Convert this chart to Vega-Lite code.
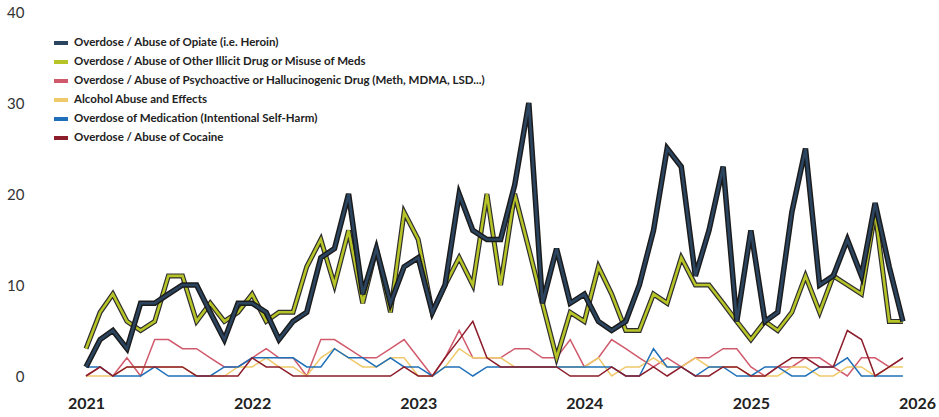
{
  "$schema": "https://vega.github.io/schema/vega-lite/v6.json",
  "autosize": "none",
  "width": 831,
  "height": 364,
  "padding": {"left": 86, "top": 12, "right": 22, "bottom": 41},
  "background": "white",
  "config": {"view": {"stroke": null}},
  "data": {"values": [
    {"date":"2021-01-01","op":1,"oi":3,"ps":0,"al":0,"me":1,"co":0},
    {"date":"2021-02-01","op":4,"oi":7,"ps":1,"al":0,"me":1,"co":1},
    {"date":"2021-03-01","op":5,"oi":9,"ps":0,"al":0,"me":0,"co":0},
    {"date":"2021-04-01","op":3,"oi":6,"ps":2,"al":1,"me":0,"co":1},
    {"date":"2021-05-01","op":8,"oi":5,"ps":0,"al":1,"me":0,"co":1},
    {"date":"2021-06-01","op":8,"oi":6,"ps":4,"al":1,"me":1,"co":1},
    {"date":"2021-07-01","op":9,"oi":11,"ps":4,"al":1,"me":0,"co":1},
    {"date":"2021-08-01","op":10,"oi":11,"ps":3,"al":1,"me":0,"co":1},
    {"date":"2021-09-01","op":10,"oi":6,"ps":3,"al":0,"me":0,"co":0},
    {"date":"2021-10-01","op":7,"oi":8,"ps":2,"al":0,"me":0,"co":0},
    {"date":"2021-11-01","op":4,"oi":6,"ps":1,"al":0,"me":1,"co":0},
    {"date":"2021-12-01","op":8,"oi":7,"ps":1,"al":1,"me":1,"co":0},
    {"date":"2022-01-01","op":8,"oi":9,"ps":2,"al":1,"me":2,"co":2},
    {"date":"2022-02-01","op":7,"oi":6,"ps":3,"al":2,"me":2,"co":1},
    {"date":"2022-03-01","op":4,"oi":7,"ps":2,"al":1,"me":2,"co":1},
    {"date":"2022-04-01","op":6,"oi":7,"ps":2,"al":1,"me":2,"co":0},
    {"date":"2022-05-01","op":7,"oi":12,"ps":0,"al":0,"me":1,"co":0},
    {"date":"2022-06-01","op":13,"oi":15,"ps":4,"al":2,"me":1,"co":0},
    {"date":"2022-07-01","op":14,"oi":10,"ps":4,"al":3,"me":3,"co":0},
    {"date":"2022-08-01","op":20,"oi":16,"ps":3,"al":2,"me":2,"co":0},
    {"date":"2022-09-01","op":9,"oi":8,"ps":2,"al":1,"me":2,"co":0},
    {"date":"2022-10-01","op":14,"oi":14,"ps":2,"al":1,"me":1,"co":0},
    {"date":"2022-11-01","op":8,"oi":7,"ps":3,"al":2,"me":2,"co":0},
    {"date":"2022-12-01","op":12,"oi":18,"ps":4,"al":2,"me":1,"co":1},
    {"date":"2023-01-01","op":13,"oi":15,"ps":2,"al":0,"me":1,"co":0},
    {"date":"2023-02-01","op":7,"oi":7,"ps":0,"al":0,"me":0,"co":0},
    {"date":"2023-03-01","op":10,"oi":10,"ps":2,"al":1,"me":1,"co":2},
    {"date":"2023-04-01","op":20,"oi":13,"ps":5,"al":3,"me":1,"co":4},
    {"date":"2023-05-01","op":16,"oi":10,"ps":2,"al":2,"me":0,"co":6},
    {"date":"2023-06-01","op":15,"oi":20,"ps":2,"al":2,"me":1,"co":2},
    {"date":"2023-07-01","op":15,"oi":10,"ps":2,"al":2,"me":1,"co":1},
    {"date":"2023-08-01","op":21,"oi":20,"ps":3,"al":1,"me":1,"co":1},
    {"date":"2023-09-01","op":30,"oi":14,"ps":3,"al":1,"me":1,"co":1},
    {"date":"2023-10-01","op":8,"oi":8,"ps":2,"al":1,"me":1,"co":1},
    {"date":"2023-11-01","op":14,"oi":2,"ps":2,"al":1,"me":1,"co":1},
    {"date":"2023-12-01","op":8,"oi":7,"ps":4,"al":1,"me":1,"co":0},
    {"date":"2024-01-01","op":9,"oi":6,"ps":1,"al":1,"me":1,"co":0},
    {"date":"2024-02-01","op":6,"oi":12,"ps":2,"al":2,"me":1,"co":0},
    {"date":"2024-03-01","op":5,"oi":9,"ps":4,"al":0,"me":1,"co":1},
    {"date":"2024-04-01","op":6,"oi":5,"ps":3,"al":1,"me":0,"co":0},
    {"date":"2024-05-01","op":10,"oi":5,"ps":2,"al":1,"me":0,"co":0},
    {"date":"2024-06-01","op":16,"oi":9,"ps":1,"al":2,"me":3,"co":1},
    {"date":"2024-07-01","op":25,"oi":8,"ps":2,"al":1,"me":1,"co":0},
    {"date":"2024-08-01","op":23,"oi":13,"ps":1,"al":1,"me":1,"co":1},
    {"date":"2024-09-01","op":11,"oi":10,"ps":2,"al":2,"me":0,"co":0},
    {"date":"2024-10-01","op":16,"oi":10,"ps":2,"al":1,"me":1,"co":0},
    {"date":"2024-11-01","op":23,"oi":8,"ps":3,"al":1,"me":1,"co":1},
    {"date":"2024-12-01","op":6,"oi":6,"ps":3,"al":1,"me":0,"co":1},
    {"date":"2025-01-01","op":16,"oi":4,"ps":1,"al":0,"me":0,"co":0},
    {"date":"2025-02-01","op":6,"oi":6,"ps":0,"al":0,"me":1,"co":0},
    {"date":"2025-03-01","op":7,"oi":5,"ps":1,"al":0,"me":1,"co":1},
    {"date":"2025-04-01","op":18,"oi":7,"ps":1,"al":1,"me":0,"co":2},
    {"date":"2025-05-01","op":25,"oi":11,"ps":2,"al":1,"me":0,"co":2},
    {"date":"2025-06-01","op":10,"oi":7,"ps":2,"al":0,"me":1,"co":1},
    {"date":"2025-07-01","op":11,"oi":11,"ps":1,"al":0,"me":1,"co":1},
    {"date":"2025-08-01","op":15,"oi":10,"ps":0,"al":1,"me":2,"co":5},
    {"date":"2025-09-01","op":11,"oi":9,"ps":2,"al":1,"me":0,"co":4},
    {"date":"2025-10-01","op":19,"oi":18,"ps":2,"al":0,"me":0,"co":0},
    {"date":"2025-11-01","op":12,"oi":6,"ps":1,"al":1,"me":0,"co":1},
    {"date":"2025-12-01","op":6,"oi":6,"ps":2,"al":1,"me":0,"co":2}
  ]},
  "transform": [
    {"fold": ["op", "oi", "ps", "al", "me", "co"], "as": ["series", "value"]}
  ],
  "encoding": {
    "x": {
      "field": "date", "type": "temporal", "title": null,
      "scale": {"type": "utc", "domain": [{"year": 2021, "month": 1, "date": 1, "utc": true}, {"year": 2026, "month": 1, "date": 1, "utc": true}]},
      "axis": {
        "values": [
          {"year": 2021, "month": 1, "date": 1, "utc": true},
          {"year": 2022, "month": 1, "date": 1, "utc": true},
          {"year": 2023, "month": 1, "date": 1, "utc": true},
          {"year": 2024, "month": 1, "date": 1, "utc": true},
          {"year": 2025, "month": 1, "date": 1, "utc": true},
          {"year": 2026, "month": 1, "date": 1, "utc": true}
        ],
        "format": "%Y", "formatType": "utc",
        "grid": false, "domain": false, "ticks": false,
        "labelPadding": 19, "labelFont": "Lato", "labelFontSize": 16, "labelFontWeight": "bold",
        "labelColor": "#222", "labelFlush": false, "labelOverlap": false
      }
    },
    "y": {
      "field": "value", "type": "quantitative", "title": null,
      "scale": {"domain": [0, 40], "nice": false},
      "axis": {
        "values": [0, 10, 20, 30, 40],
        "grid": false, "domain": false, "ticks": false,
        "labelPadding": 62, "labelFont": "Lato", "labelFontSize": 15,
        "labelColor": "#333"
      }
    }
  },
  "layer": [
    {
      "transform": [{"filter": {"field": "series", "oneOf": ["ps", "al", "me", "co"]}}],
      "mark": {"type": "line", "strokeWidth": 1.5},
      "encoding": {
        "color": {
          "field": "series", "type": "nominal",
          "scale": {
            "domain": ["op", "oi", "ps", "al", "me", "co"],
            "range": ["#2b4560", "#b7c427", "#d05a6c", "#f0c96a", "#1f70b8", "#8c1d2a"]
          },
          "legend": {
            "title": null, "orient": "none", "legendX": -34, "legendY": 22,
            "direction": "vertical",
            "symbolType": "stroke", "symbolSize": 196, "symbolStrokeWidth": 4,
            "rowPadding": 2, "labelOffset": 4,
            "labelFont": "Lato", "labelFontSize": 11.5, "labelFontWeight": "bold",
            "labelColor": "#222", "labelLimit": 600,
            "labelExpr": "{'op':'Overdose / Abuse of Opiate (i.e. Heroin)','oi':'Overdose / Abuse of Other Illicit Drug or Misuse of Meds','ps':'Overdose / Abuse of Psychoactive or Hallucinogenic Drug (Meth, MDMA, LSD...)','al':'Alcohol Abuse and Effects','me':'Overdose of Medication (Intentional Self-Harm)','co':'Overdose / Abuse of Cocaine'}[datum.label]"
          }
        }
      }
    },
    {
      "transform": [{"filter": "datum.series == 'oi'"}],
      "mark": {"type": "line", "strokeWidth": 5, "color": "#2e2e2e"},
      "encoding": {}
    },
    {
      "transform": [{"filter": "datum.series == 'oi'"}],
      "mark": {"type": "line", "strokeWidth": 2.6},
      "encoding": {"color": {"field": "series", "type": "nominal"}}
    },
    {
      "transform": [{"filter": "datum.series == 'op'"}],
      "mark": {"type": "line", "strokeWidth": 5.5, "color": "#1b1b1b"},
      "encoding": {}
    },
    {
      "transform": [{"filter": "datum.series == 'op'"}],
      "mark": {"type": "line", "strokeWidth": 2.6},
      "encoding": {"color": {"field": "series", "type": "nominal"}}
    }
  ]
}
